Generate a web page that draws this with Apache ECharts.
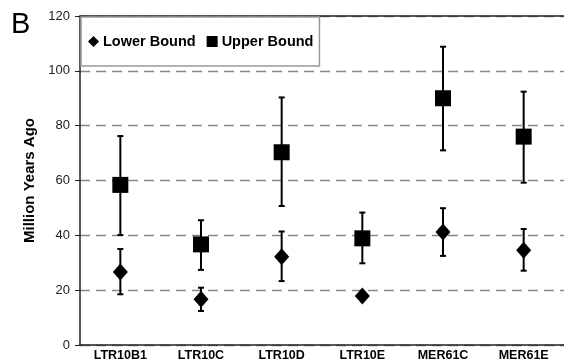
<!DOCTYPE html>
<html>
<head>
<meta charset="utf-8">
<script src="https://cdn.jsdelivr.net/npm/echarts@6/dist/echarts.min.js"></script>
<style>html,body{margin:0;padding:0;background:#fff}#c{width:564px;height:362px}</style>
</head>
<body>
<div id="c"></div>
<script>
var categories = ['LTR10B1', 'LTR10C', 'LTR10D', 'LTR10E', 'MER61C', 'MER61E'];
var lowerVals = [26.6, 16.7, 32.2, 17.9, 41.2, 34.6];
var lowerMin  = [18.5, 12.4, 23.3, 17.9, 32.5, 27.1];
var lowerMax  = [35.0, 20.9, 41.4, 17.9, 49.9, 42.3];
var upperVals = [58.4, 36.7, 70.3, 38.9, 90.0, 76.0];
var upperMin  = [40.1, 27.4, 50.7, 29.8, 71.0, 59.2];
var upperMax  = [76.2, 45.5, 90.3, 48.3, 108.8, 92.4];
var yTicks = [0, 20, 40, 60, 80, 100, 120];

var FONT = '"Liberation Sans", Arial, sans-serif';
function errData(mins, maxs) {
  return categories.map(function (c, i) { return [i, mins[i], maxs[i]]; });
}
function errRender(params, api) {
  var i = api.value(0);
  var lo = api.coord([i, api.value(1)]);
  var hi = api.coord([i, api.value(2)]);
  if (Math.abs(hi[1] - lo[1]) < 1) return null;
  var hw = 3;
  var st = { stroke: '#000', lineWidth: 2 };
  return {
    type: 'group',
    children: [
      { type: 'line', shape: { x1: lo[0], y1: lo[1], x2: hi[0], y2: hi[1] }, style: st },
      { type: 'line', shape: { x1: lo[0] - hw, y1: lo[1], x2: lo[0] + hw, y2: lo[1] }, style: st },
      { type: 'line', shape: { x1: hi[0] - hw, y1: hi[1], x2: hi[0] + hw, y2: hi[1] }, style: st }
    ]
  };
}

var chart = echarts.init(document.getElementById('c'));
chart.setOption({
  animation: false,
  textStyle: { fontFamily: FONT },
  title: { text: 'B', left: 11, top: 10, padding: 0, textStyle: { fontFamily: FONT, fontSize: 29, fontWeight: 'normal', color: '#000' } },
  grid: { left: 80, right: -5, top: 16, bottom: 17 },
  legend: {
    left: 81, top: 17,
    padding: [17, 6, 17, 7],
    backgroundColor: '#fff',
    borderColor: '#999', borderWidth: 1.5,
    itemWidth: 11, itemHeight: 11, itemGap: 11,
    textStyle: { fontFamily: FONT, fontSize: 14.5, fontWeight: 'bold', color: '#000', padding: [0, 0, 0, -1] },
    data: [{ name: 'Lower Bound', icon: 'diamond' }, { name: 'Upper Bound', icon: 'rect' }]
  },
  xAxis: [{
    type: 'category', data: categories,
    axisLine: { lineStyle: { color: '#222', width: 1.5 } },
    axisTick: { show: false },
    axisLabel: { fontFamily: FONT, fontSize: 12.5, fontWeight: 'bold', color: '#000', margin: 4 }
  }, {
    type: 'category', data: categories, position: 'top',
    axisLine: { show: true, onZero: false, lineStyle: { color: '#222', width: 1.5 } },
    axisTick: { show: false }, axisLabel: { show: false }
  }],
  yAxis: {
    type: 'value', min: yTicks[0], max: yTicks[yTicks.length - 1], interval: 20,
    name: 'Million Years Ago', nameLocation: 'middle', nameGap: 38,
    nameTextStyle: { fontFamily: FONT, fontSize: 15, fontWeight: 'bold', color: '#000' },
    axisLine: { show: true, lineStyle: { color: '#222', width: 1.5 } },
    axisTick: { show: true, length: 5, lineStyle: { color: '#222' } },
    axisLabel: { fontFamily: FONT, fontSize: 13, color: '#222', margin: 10 },
    splitLine: { show: true, lineStyle: { color: '#888', width: 1.3, type: [10, 6] } }
  },
  series: [
    { type: 'custom', name: 'lowerErr', renderItem: errRender, data: errData(lowerMin, lowerMax), encode: { x: 0, y: [1, 2] }, z: 2, silent: true },
    { type: 'custom', name: 'upperErr', renderItem: errRender, data: errData(upperMin, upperMax), encode: { x: 0, y: [1, 2] }, z: 2, silent: true },
    { type: 'scatter', name: 'Lower Bound', symbol: 'diamond', symbolSize: [15, 17], itemStyle: { color: '#000', opacity: 1 }, data: lowerVals, z: 3 },
    { type: 'scatter', name: 'Upper Bound', symbol: 'rect', symbolSize: 16, itemStyle: { color: '#000', opacity: 1 }, data: upperVals, z: 3 }
  ]
});
</script>
</body>
</html>
